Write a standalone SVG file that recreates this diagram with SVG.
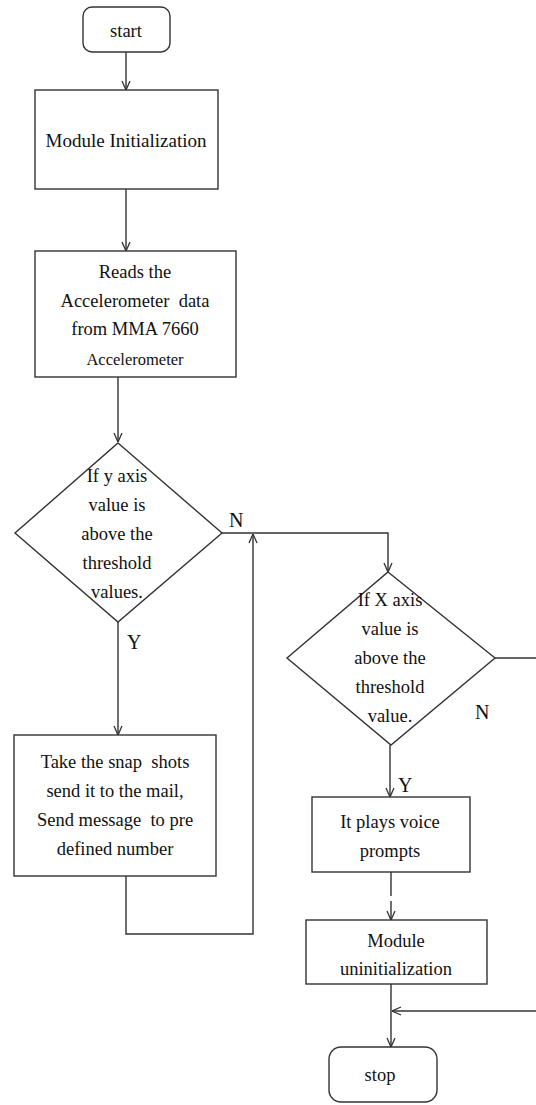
<svg xmlns="http://www.w3.org/2000/svg" width="536" height="1105" viewBox="0 0 536 1105">
<style>
.shape{fill:#fff;stroke:#333;stroke-width:1.4}
.t{font-family:"Liberation Serif","Times New Roman",serif;font-size:18.5px;fill:#111;text-anchor:middle}
.lbl{font-family:"Liberation Serif","Times New Roman",serif;font-size:20px;fill:#111}
.c{fill:none;stroke:#333;stroke-width:1.4}
</style>
<defs>
<marker id="arr" viewBox="0 0 10 10" refX="10" refY="5" markerWidth="10" markerHeight="10" markerUnits="userSpaceOnUse" orient="auto">
<path d="M1,1 L10,5 L1,9" fill="none" stroke="#333" stroke-width="1.3"/>
</marker>
</defs>
<rect width="536" height="1105" fill="#fff"/>
<g id="connectors">
<path class="c" d="M126,52 V90" marker-end="url(#arr)"/>
<path class="c" d="M126,189 V251" marker-end="url(#arr)"/>
<path class="c" d="M118,377 V442" marker-end="url(#arr)"/>
<path class="c" d="M222,533 H388 V572" marker-end="url(#arr)"/>
<path class="c" d="M118,622 V735" marker-end="url(#arr)"/>
<path class="c" d="M126,876 V934 H253 V534" marker-end="url(#arr)"/>
<path class="c" d="M390,745 V797" marker-end="url(#arr)"/>
<path class="c" d="M391,872 V896"/>
<path class="c" d="M391,901 V920" marker-end="url(#arr)"/>
<path class="c" d="M495,658 H536"/>
<path class="c" d="M536,1011 H392" marker-end="url(#arr)"/>
<path class="c" d="M391,984 V1047" marker-end="url(#arr)"/>
<text class="lbl" x="229" y="527">N</text>
<text class="lbl" x="127" y="649">Y</text>
<text class="lbl" x="475" y="719">N</text>
<text class="lbl" x="398" y="792">Y</text>
</g>
<g id="start">
<rect class="shape" x="83" y="7" width="87" height="45" rx="9"/>
<text class="t" x="126" y="37">start</text>
</g>
<g id="init">
<rect class="shape" x="35" y="90" width="183" height="99"/>
<text class="t" x="126" y="147" style="font-size:19px">Module Initialization</text>
</g>
<g id="reads">
<rect class="shape" x="35" y="251" width="201" height="126"/>
<text class="t" x="135" y="278">Reads the</text>
<text class="t" x="135" y="307" xml:space="preserve">Accelerometer  data</text>
<text class="t" x="135" y="335">from MMA 7660</text>
<text class="t" x="135" y="365" style="font-size:16.5px">Accelerometer</text>
</g>
<g id="ydecision">
<polygon class="shape" points="118,443 222,533 118,622 15,533"/>
<text class="t" x="117" y="482">If y axis</text>
<text class="t" x="117" y="511">value is</text>
<text class="t" x="117" y="540">above the</text>
<text class="t" x="117" y="569">threshold</text>
<text class="t" x="117" y="598">values.</text>
</g>
<g id="snapshot">
<rect class="shape" x="14" y="735" width="202" height="141"/>
<text class="t" x="115" y="768" xml:space="preserve">Take the snap  shots</text>
<text class="t" x="115" y="797">send it to the mail,</text>
<text class="t" x="115" y="826" xml:space="preserve">Send message  to pre</text>
<text class="t" x="115" y="855">defined number</text>
</g>
<g id="xdecision">
<polygon class="shape" points="388,572 495,658 391,745 287,658"/>
<text class="t" x="390" y="606">If X axis</text>
<text class="t" x="390" y="635">value is</text>
<text class="t" x="390" y="664">above the</text>
<text class="t" x="390" y="693">threshold</text>
<text class="t" x="390" y="722">value.</text>
</g>
<g id="voice">
<rect class="shape" x="312" y="797" width="158" height="75"/>
<text class="t" x="390" y="828">It plays voice</text>
<text class="t" x="390" y="857">prompts</text>
</g>
<g id="uninit">
<rect class="shape" x="306" y="920" width="181" height="64"/>
<text class="t" x="396" y="947">Module</text>
<text class="t" x="396" y="975">uninitialization</text>
</g>
<g id="stop">
<rect class="shape" x="329" y="1047" width="108" height="55" rx="12"/>
<text class="t" x="380" y="1081">stop</text>
</g>
</svg>
